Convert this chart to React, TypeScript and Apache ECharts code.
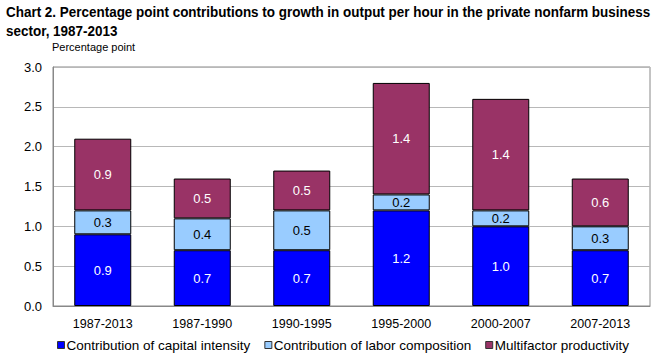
import React, { useEffect, useRef } from "react";
import * as echarts from "echarts";

const categories = ["1987-2013", "1987-1990", "1990-1995", "1995-2000", "2000-2007", "2007-2013"];
const capitalIntensity = [0.9, 0.7, 0.7, 1.2, 1.0, 0.7];
const laborComposition = [0.3, 0.4, 0.5, 0.2, 0.2, 0.3];
const multifactor = [0.9, 0.5, 0.5, 1.4, 1.4, 0.6];
const seriesNames = [
  "Contribution of capital intensity",
  "Contribution of labor composition",
  "Multifactor productivity",
];
const titleLines = [
  "Chart 2. Percentage point contributions to growth in output per hour in the private nonfarm business",
  "sector, 1987-2013",
];
const yTicks = { min: 0, max: 3, interval: 0.5 };

export default function App() {
  const ref = useRef<HTMLDivElement>(null);
  useEffect(() => {
    if (!ref.current) return;
    const chart = echarts.init(ref.current, null, { renderer: "svg" });
    const font = "'Liberation Sans', Arial, sans-serif";
    const mk = (name: string, data: number[], color: string, labelColor: string) => ({
      name,
      type: "bar",
      stack: "total",
      data,
      barWidth: 57,
      itemStyle: { color, borderColor: "#000", borderWidth: 1 },
      label: {
        show: true,
        position: "inside",
        color: labelColor,
        fontFamily: font,
        fontSize: 13,
        formatter: (p: any) => Number(p.value).toFixed(1),
      },
    });
    chart.setOption({
      animation: false,
      textStyle: { fontFamily: font },
      graphic: [
        {
          type: "text",
          x: 6,
          y: 3,
          scaleX: 0.962,
          style: {
            text: titleLines.join("\n"),
            fontFamily: font,
            fontSize: 14,
            fontWeight: "bold",
            lineHeight: 19,
            fill: "#000",
          },
        },
        {
          type: "text",
          x: 52,
          y: 41,
          style: { text: "Percentage point", fontFamily: font, fontSize: 11, fill: "#000" },
        },
        {
          type: "rect",
          shape: { x: 53, y: 67, width: 597, height: 239 },
          style: { fill: "none", stroke: "#888", lineWidth: 1 },
          silent: true,
          z: 0,
        },
      ],
      legend: {
        left: 57,
        top: 338,
        padding: 0,
        icon: "rect",
        itemWidth: 7,
        itemHeight: 7,
        itemGap: 14,
        textStyle: { fontFamily: font, fontSize: 13.5, color: "#000", padding: [0, 0, 0, -3] },
        itemStyle: { borderColor: "#333", borderWidth: 1 },
        data: seriesNames,
      },
      grid: { left: 53, right: 14, top: 67, bottom: 54, containLabel: false },
      xAxis: {
        type: "category",
        data: categories,
        axisLine: { show: true, lineStyle: { color: "#888" } },
        axisTick: { show: false },
        axisLabel: { color: "#000", fontSize: 12.5, fontFamily: font, margin: 11 },
      },
      yAxis: {
        type: "value",
        min: yTicks.min,
        max: yTicks.max,
        interval: yTicks.interval,
        axisLine: { show: true, lineStyle: { color: "#888" } },
        axisTick: { show: false },
        splitLine: { lineStyle: { color: "#b8b8b8" } },
        axisLabel: {
          color: "#000",
          fontSize: 13,
          fontFamily: font,
          margin: 11,
          formatter: (v: number) => v.toFixed(1),
        },
      },
      series: [
        mk(seriesNames[0], capitalIntensity, "#0000ff", "#fff"),
        mk(seriesNames[1], laborComposition, "#99ccff", "#000"),
        mk(seriesNames[2], multifactor, "#993366", "#fff"),
      ],
    });
    return () => chart.dispose();
  }, []);
  return <div ref={ref} style={{ width: 664, height: 360, position: "absolute", left: 0, top: 0 }} />;
}
